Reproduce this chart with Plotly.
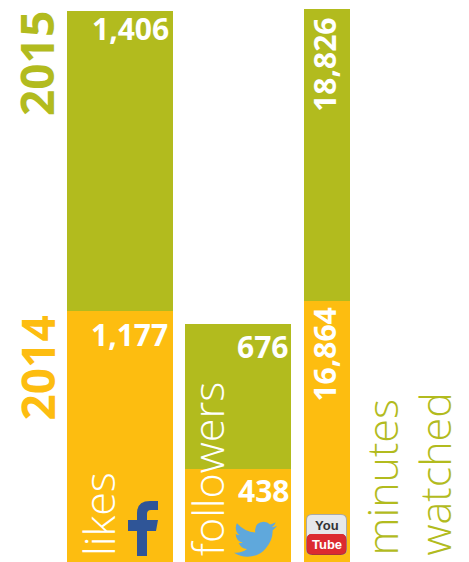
import plotly.graph_objects as go

W, H = 469, 562
categories = ["likes", "followers", "minutes", "watched"]
values_2014 = [1177, 438, 16864]
values_2015 = [1406, 676, 18826]
year_labels = ["2014", "2015"]

ORANGE = "#FDBD10"
GREEN = "#B2BB1E"
FONT = "Open Sans"

bar_centers = [120, 238, 327]
bar_widths = [106, 106, 46]
y_top_social = H / 0.2133
y_top_video = H / 0.0155

fig = go.Figure()
for idx, (vals, col, name) in enumerate([(values_2014, ORANGE, "2014"), (values_2015, GREEN, "2015")]):
    base = [0, 0, 0] if idx == 0 else values_2014
    fig.add_bar(x=bar_centers[:2], y=vals[:2], base=base[:2], width=bar_widths[:2],
                marker=dict(color=col, line_width=0), name=name, yaxis="y", showlegend=False, hoverinfo="skip")
    fig.add_bar(x=bar_centers[2:], y=vals[2:], base=base[2:], width=bar_widths[2:],
                marker=dict(color=col, line_width=0), name=name, yaxis="y2", showlegend=False, hoverinfo="skip")


def px(x):
    return x / W


def py(y):
    return 1 - y / H


def path(cmds):
    out = []
    for c in cmds:
        op, pts = c[0], c[1:]
        out.append(op + " ".join(f"{px(pts[i]):.5f},{py(pts[i+1]):.5f}" for i in range(0, len(pts), 2)))
    return " ".join(out) + " Z"


def shape(cmds, fill):
    return dict(type="path", xref="paper", yref="paper", path=path(cmds), fillcolor=fill, line_width=0, layer="above")


def rrect(x0, y0, x1, y1, r):
    return [("M", x0 + r, y0), ("L", x1 - r, y0), ("Q", x1, y0, x1, y0 + r), ("L", x1, y1 - r),
            ("Q", x1, y1, x1 - r, y1), ("L", x0 + r, y1), ("Q", x0, y1, x0, y1 - r), ("L", x0, y0 + r),
            ("Q", x0, y0, x0 + r, y0)]


f_icon = [("M", 158, 501), ("L", 150, 501), ("Q", 137, 501, 137, 513), ("L", 137, 520), ("L", 128, 520),
          ("L", 128, 531), ("L", 137, 531), ("L", 137, 556), ("L", 147, 556), ("L", 147, 531), ("L", 156, 531),
          ("L", 158, 520), ("L", 147, 520), ("L", 147, 514), ("Q", 147, 510, 151, 510), ("L", 158, 510)]

bird_src = [("M", 23.95, 4.57), ("Q", 22.6, 5.2, 21.13, 5.35), ("Q", 22.7, 4.4, 23.29, 2.62),
            ("Q", 21.8, 3.5, 20.16, 3.81), ("Q", 18.7, 2.3, 16.6, 2.3), ("Q", 12, 2.5, 11.78, 6.8),
            ("Q", 11.7, 7.7, 11.9, 8.29), ("Q", 6, 8, 1.64, 3.16), ("Q", 0.97, 4.3, 0.97, 5.64),
            ("Q", 1, 8.3, 3.16, 9.73), ("Q", 2, 9.7, 0.93, 9.12), ("L", 0.93, 9.18), ("Q", 1, 12.9, 4.88, 14),
            ("Q", 3.8, 14.3, 2.67, 14.09), ("Q", 3.7, 17.2, 7.27, 17.5), ("Q", 4.5, 19.6, 1.17, 19.6),
            ("Q", 0.6, 19.6, 0, 19.54), ("Q", 3.5, 21.75, 7.56, 21.75), ("Q", 14, 21.7, 17.8, 17),
            ("Q", 21.5, 12.8, 21.56, 7.76), ("L", 21.54, 7.13), ("Q", 23, 6.1, 24, 4.59)]
bird = []
for c in bird_src:
    pts = list(c[1:])
    mapped = []
    for i in range(0, len(pts), 2):
        mapped += [234 + pts[i] * 43 / 24, 521.7 + (pts[i + 1] - 2.3) * 35 / 19.45]
    bird.append((c[0], *mapped))

shapes = [
    shape(f_icon, "#2F5597"),
    shape(bird, "#5FA8DC"),
    shape(rrect(306, 514, 347, 555, 6), "#A9A9A6"),
    shape(rrect(307, 515, 346, 554, 5), "#E6E8EA"),
    shape(rrect(306.5, 534, 346.5, 555, 6), "#A8343A"),
    shape(rrect(307, 534, 346, 554, 5), "#DC2B30"),
]

ann = []


def text(s, x, y, size, color, weight=400, angle=0, xa="center", ya="middle", fam=FONT, xref="paper", yref="paper", xs=0, ys=0):
    ann.append(dict(text=s, x=x, y=y, xref=xref, yref=yref, xanchor=xa, yanchor=ya, textangle=angle, showarrow=False,
                    font=dict(family=fam, size=size, color=color, weight=weight), xshift=xs, yshift=ys, borderpad=0))


# year labels
text(year_labels[1], px(36), py(64), 46, GREEN, 700, -90)
text(year_labels[0], px(36), py(368.5), 46, ORANGE, 700, -90)

# value labels anchored to the bars
text(f"{values_2015[0]:,}", 170, values_2014[0] + values_2015[0], 30, "white", 700, 0, "right", "top", xref="x", yref="y", ys=4)
text(f"{values_2014[0]:,}", 168.5, values_2014[0], 30, "white", 700, 0, "right", "top", xref="x", yref="y", ys=-2)
text(f"{values_2015[1]:,}", 289, values_2014[1] + values_2015[1], 30, "white", 700, 0, "right", "top", xref="x", yref="y", ys=-1)
text(f"{values_2014[1]:,}", 290, values_2014[1], 30, "white", 700, 0, "right", "top", xref="x", yref="y", ys=0)
text(f"{values_2015[2]:,}", 325, values_2014[2] + values_2015[2], 30, "white", 700, -90, "center", "top", xref="x", yref="y2", ys=-8)
text(f"{values_2014[2]:,}", 325, values_2014[2], 30, "white", 700, -90, "center", "top", xref="x", yref="y2", ys=-6)

# category labels
text(categories[0], px(98), py(557), 43, "white", 300, -90, "center", "bottom")
text(categories[1], px(207), py(557), 43, "white", 300, -90, "center", "bottom")
text(categories[2], px(381), py(557), 43, GREEN, 300, -90, "center", "bottom")
text(categories[3], px(434), py(557), 43, GREEN, 300, -90, "center", "bottom")

# YouTube logo text
text("You", px(326.5), py(525), 13, "#333333", 700, 0, fam="Liberation Sans")
text("Tube", px(326.5), py(544), 13, "white", 700, 0, fam="Liberation Sans")

fig.update_layout(
    width=W, height=H, margin=dict(l=0, r=0, t=0, b=0), paper_bgcolor="white", plot_bgcolor="white",
    barmode="overlay", bargap=0,
    xaxis=dict(range=[0, W], visible=False, fixedrange=True),
    yaxis=dict(range=[0, y_top_social], visible=False, fixedrange=True),
    yaxis2=dict(range=[0, y_top_video], visible=False, fixedrange=True, overlaying="y"),
    shapes=shapes, annotations=ann,
)
fig.write_html("out.html", config={"displayModeBar": False},
               post_script="document.body.style.margin='0';document.body.style.overflow='hidden';")
